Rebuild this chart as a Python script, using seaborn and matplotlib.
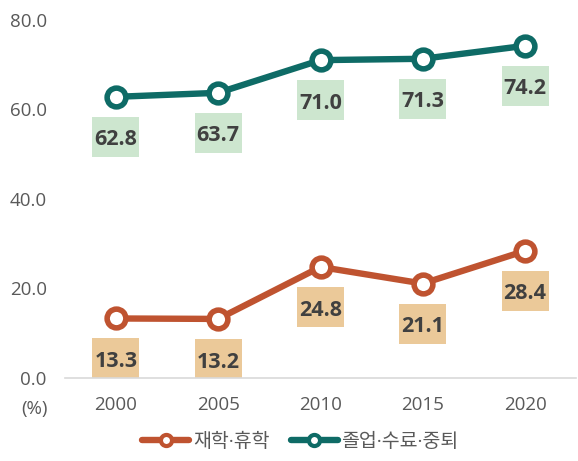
import numpy as np
import pandas as pd
import matplotlib.pyplot as plt
import matplotlib.transforms as mtransforms
from matplotlib.patches import Rectangle
from matplotlib.lines import Line2D
import seaborn as sns

years = [2000, 2005, 2010, 2015, 2020]
enrolled = [13.3, 13.2, 24.8, 21.1, 28.4]     # 재학·휴학
graduated = [62.8, 63.7, 71.0, 71.3, 74.2]    # 졸업·수료·중퇴
series_names = ["재학·휴학", "졸업·수료·중퇴"]
line_colors = ["#BF5330", "#0E6B66"]
box_colors = ["#EBC999", "#CDE6CF"]

sns.set_theme(style="white")
plt.rcParams["font.family"] = ["Open Sans", "Noto Sans CJK KR", "DejaVu Sans"]

df = pd.DataFrame({
    "year": years * 2,
    "value": enrolled + graduated,
    "series": [series_names[0]] * len(years) + [series_names[1]] * len(years),
})

fig = plt.figure(figsize=(5.78, 4.61), dpi=100)
ax = fig.add_axes([0.112, 0.18, 0.885, 0.777])

sns.lineplot(data=df, x="year", y="value", hue="series", palette=line_colors,
             hue_order=series_names, linewidth=4.6, marker="o", markersize=13.5,
             markerfacecolor="white", markeredgewidth=4, legend=False, ax=ax)
for line, c in zip(ax.lines, line_colors):
    line.set_markeredgecolor(c)
    line.set_markerfacecolor("white")

# value boxes under each point (sizes in inches, anchored on the point)
for vals, bc in zip([enrolled, graduated], box_colors):
    for x, y in zip(years, vals):
        tr = fig.dpi_scale_trans + mtransforms.ScaledTranslation(x, y, ax.transData)
        ax.add_patch(Rectangle((-0.235, -0.60), 0.47, 0.40, transform=tr,
                               facecolor=bc, edgecolor="none", zorder=1))
        ax.annotate(f"{y:.1f}", (x, y), xytext=(0, -35), textcoords="offset points",
                    ha="center", va="baseline", fontsize=15.5, fontweight="bold",
                    color="#404040", zorder=2)

ax.set_ylim(0, 80)
ax.set_xlim(1997.5, 2022.5)
ax.set_yticks(np.arange(0, 81, 20))
ax.set_yticklabels([f"{v:.1f}" for v in np.arange(0, 81, 20)])
ax.set_xticks(years)
ax.set_xticklabels([str(y) for y in years])
ax.tick_params(axis="y", length=0, pad=13, labelsize=13.5, labelcolor="#595959")
ax.tick_params(axis="x", length=0, pad=13, labelsize=13.5, labelcolor="#595959")
ax.set_xlabel("")
ax.set_ylabel("")
for s in ["top", "right", "left"]:
    ax.spines[s].set_visible(False)
ax.spines["bottom"].set_color("#D9D9D9")
ax.spines["bottom"].set_linewidth(1.2)

fig.text(0.059, 0.112, "(%)", ha="center", va="center", fontsize=13.5, color="#595959")

handles = [Line2D([], [], color=c, linewidth=4.6, marker="o", markersize=8,
                  markerfacecolor="white", markeredgewidth=3) for c in line_colors]
fig.legend(handles, series_names, loc="center", bbox_to_anchor=(0.52, 0.041),
           ncol=2, frameon=False, fontsize=14, labelcolor="#595959",
           handlelength=2.4, handletextpad=0.2, columnspacing=1.1)

fig.savefig("out.png", dpi=100)
